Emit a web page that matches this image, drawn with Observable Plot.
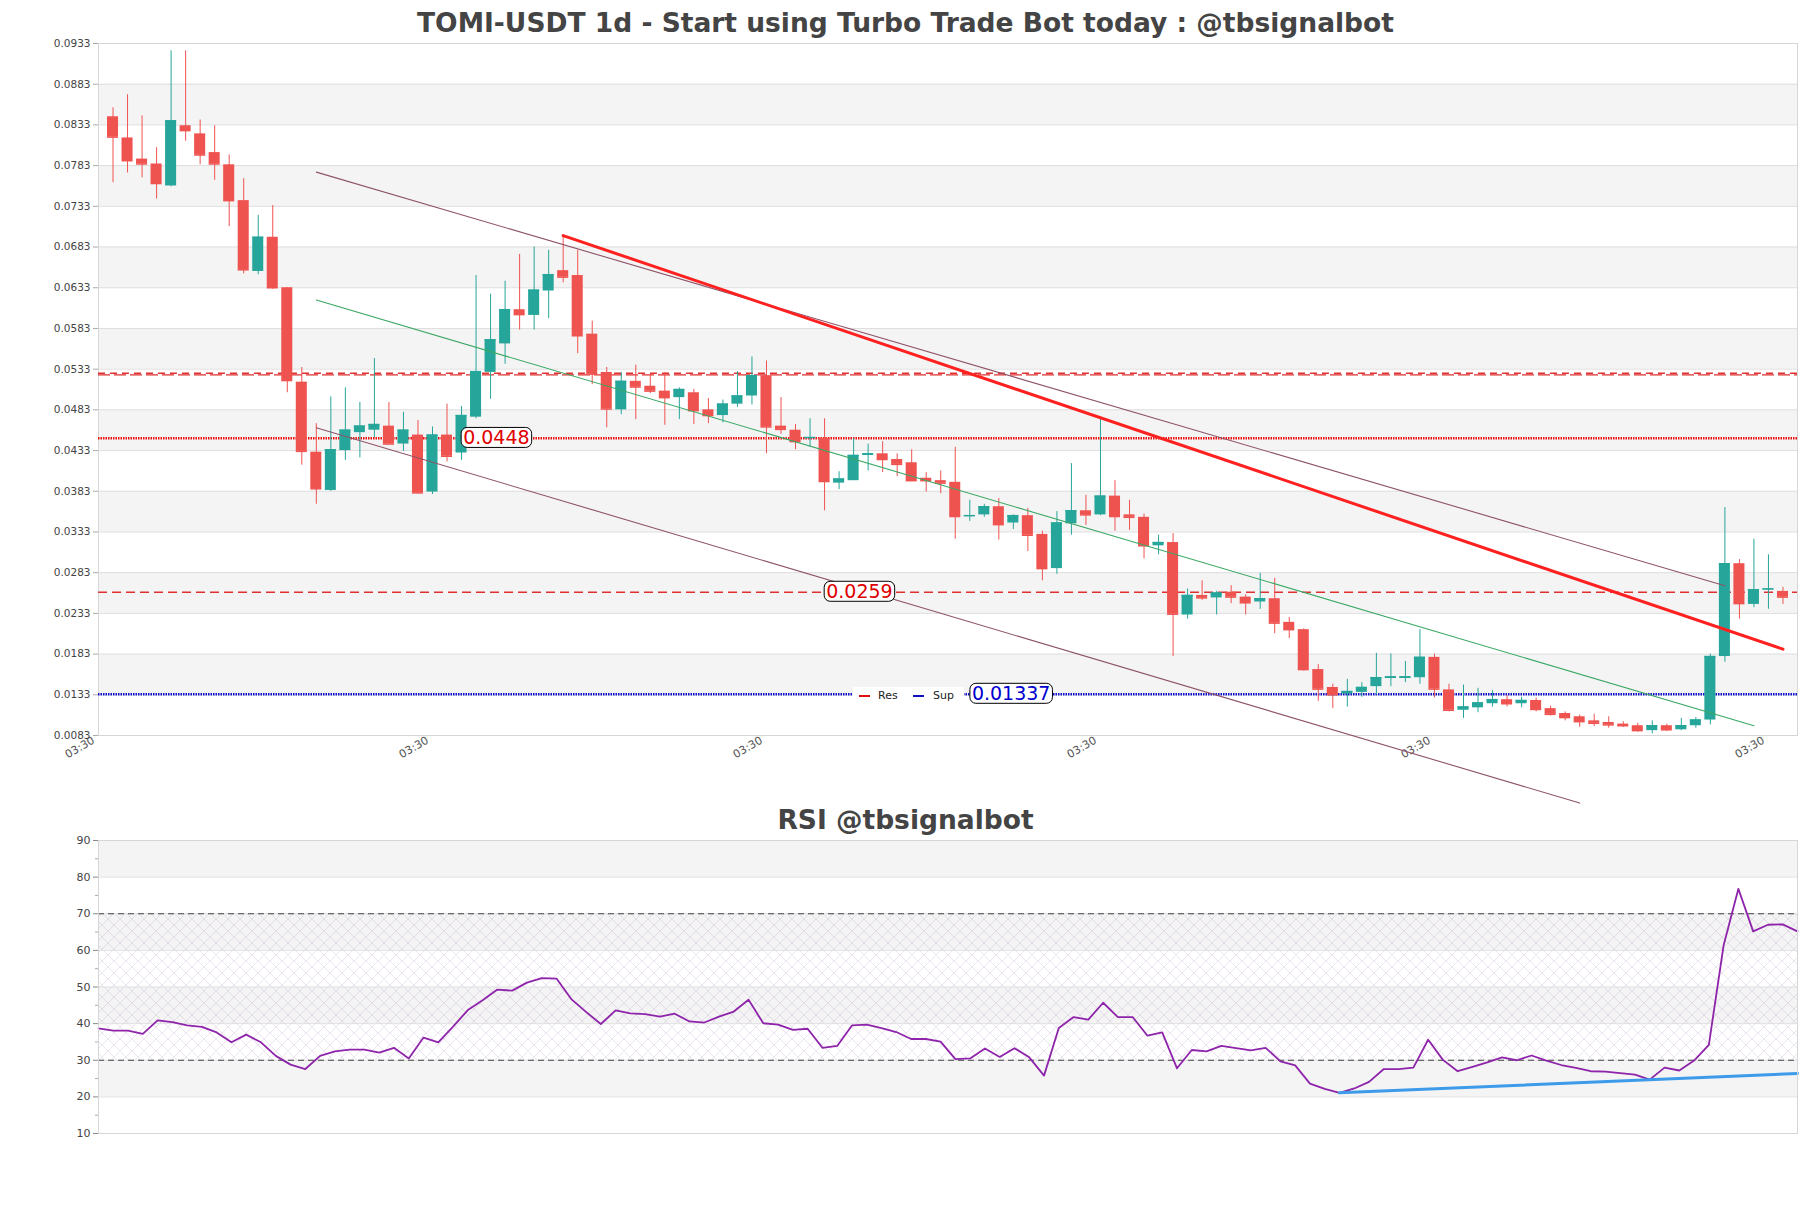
<!DOCTYPE html>
<html><head><meta charset="utf-8">
<script src="https://cdn.jsdelivr.net/npm/d3@7"></script>
<script src="https://cdn.jsdelivr.net/npm/@observablehq/plot@0.6"></script>
<style>
body{margin:0;background:#fff;font-family:"DejaVu Sans",sans-serif;}
#wrap{position:relative;width:1811px;height:1208px;overflow:hidden;}
.title{width:1811px;text-align:center;font-weight:bold;font-size:26.5px;color:#444;white-space:nowrap;}
#legend{position:absolute;left:853px;top:687px;width:111px;height:17px;background:#fff;font-size:11px;color:#222;}
#legend span{position:absolute;top:0;line-height:17px;}
#legend i{position:absolute;top:8px;width:11px;height:2px;}
</style></head><body><div id="wrap">
<div class="title" style="height:38px;line-height:46px;">TOMI-USDT 1d - Start using Turbo Trade Bot today : @tbsignalbot</div>
<div id="main"></div>
<div class="title" style="height:30px;line-height:30px;">RSI @tbsignalbot</div>
<div id="rsi"></div>
<div id="legend"><i style="left:6px;background:#d11;"></i><span style="left:25px;">Res</span><i style="left:60px;background:#1111c0;"></i><span style="left:80px;">Sup</span></div>
</div>
<script>
// ---------- data ----------
const open  = [0.0843,0.0817,0.0791,0.0785,0.0758,0.0832,0.0822,0.0799,0.0784,0.0740,
0.0653,0.0695,0.0633,0.0517,0.0431,0.0384,0.0433,0.0455,0.0458,0.0463,
0.0441,0.0452,0.0382,0.0452,0.0430,0.0474,0.0529,0.0564,0.0606,0.0599,
0.0629,0.0654,0.0648,0.0576,0.0529,0.0483,0.0518,0.0512,0.0506,0.0498,
0.0504,0.0483,0.0476,0.0490,0.0500,0.0525,0.0463,0.0458,0.0448,0.0448,
0.0393,0.0396,0.0427,0.0429,0.0422,0.0418,0.0399,0.0396,0.0394,0.0352,
0.0354,0.0364,0.0344,0.0353,0.0330,0.0288,0.0343,0.0359,0.0354,0.0377,
0.0354,0.0351,0.0316,0.0320,0.0231,0.0255,0.0252,0.0259,0.0253,0.0247,
0.0251,0.0222,0.0213,0.0164,0.0142,0.0134,0.0136,0.0143,0.0153,0.0153,
0.0154,0.0179,0.0139,0.0114,0.0117,0.0122,0.0127,0.0122,0.0126,0.0116,
0.0110,0.0106,0.0101,0.0099,0.0097,0.0095,0.0089,0.0095,0.0090,0.0095,
0.0102,0.0180,0.0294,0.0244,0.0262,0.0260];
const high  = [0.0854,0.0870,0.0844,0.0805,0.0924,0.0924,0.0839,0.0832,0.0796,0.0767,
0.0722,0.0734,0.0633,0.0535,0.0466,0.0499,0.0510,0.0492,0.0546,0.0492,
0.0480,0.0470,0.0462,0.0490,0.0487,0.0648,0.0625,0.0641,0.0674,0.0683,
0.0679,0.0697,0.0679,0.0592,0.0535,0.0529,0.0538,0.0526,0.0529,0.0510,
0.0508,0.0497,0.0495,0.0530,0.0548,0.0543,0.0498,0.0465,0.0472,0.0472,
0.0407,0.0448,0.0441,0.0444,0.0429,0.0434,0.0406,0.0408,0.0437,0.0372,
0.0367,0.0374,0.0354,0.0362,0.0334,0.0358,0.0417,0.0378,0.0472,0.0396,
0.0372,0.0355,0.0329,0.0331,0.0263,0.0273,0.0260,0.0267,0.0256,0.0282,
0.0276,0.0228,0.0214,0.0170,0.0146,0.0152,0.0148,0.0184,0.0183,0.0174,
0.0213,0.0183,0.0146,0.0145,0.0141,0.0138,0.0132,0.0130,0.0129,0.0119,
0.0112,0.0108,0.0109,0.0106,0.0100,0.0098,0.0101,0.0097,0.0104,0.0105,
0.0183,0.0363,0.0299,0.0324,0.0305,0.0265];
const low   = [0.0762,0.0774,0.0768,0.0742,0.0757,0.0813,0.0784,0.0765,0.0708,0.0650,
0.0649,0.0631,0.0504,0.0415,0.0367,0.0383,0.0421,0.0424,0.0449,0.0441,
0.0432,0.0380,0.0379,0.0419,0.0421,0.0472,0.0496,0.0539,0.0581,0.0581,
0.0595,0.0639,0.0552,0.0514,0.0461,0.0477,0.0471,0.0503,0.0464,0.0471,
0.0465,0.0466,0.0467,0.0486,0.0489,0.0429,0.0453,0.0434,0.0437,0.0359,
0.0385,0.0396,0.0408,0.0406,0.0401,0.0395,0.0382,0.0380,0.0324,0.0346,
0.0351,0.0323,0.0336,0.0309,0.0273,0.0281,0.0329,0.0341,0.0353,0.0334,
0.0335,0.0300,0.0305,0.0180,0.0226,0.0249,0.0231,0.0245,0.0231,0.0238,
0.0208,0.0202,0.0162,0.0125,0.0116,0.0118,0.0130,0.0133,0.0143,0.0148,
0.0146,0.0129,0.0112,0.0104,0.0111,0.0118,0.0118,0.0117,0.0112,0.0107,
0.0101,0.0093,0.0094,0.0092,0.0093,0.0087,0.0085,0.0088,0.0089,0.0092,
0.0096,0.0173,0.0226,0.0240,0.0238,0.0244];
const close = [0.0818,0.0789,0.0785,0.0761,0.0838,0.0826,0.0796,0.0785,0.0740,0.0655,
0.0695,0.0633,0.0519,0.0432,0.0386,0.0434,0.0458,0.0463,0.0465,0.0441,
0.0458,0.0381,0.0452,0.0426,0.0476,0.0530,0.0569,0.0606,0.0600,0.0630,
0.0649,0.0646,0.0574,0.0527,0.0484,0.0518,0.0511,0.0506,0.0498,0.0508,
0.0482,0.0476,0.0490,0.0500,0.0525,0.0462,0.0459,0.0444,0.0449,0.0395,
0.0398,0.0427,0.0429,0.0422,0.0416,0.0396,0.0396,0.0393,0.0352,0.0353,
0.0364,0.0342,0.0353,0.0329,0.0288,0.0344,0.0359,0.0354,0.0377,0.0352,
0.0351,0.0316,0.0320,0.0232,0.0255,0.0252,0.0258,0.0253,0.0246,0.0251,
0.0221,0.0213,0.0164,0.0140,0.0133,0.0137,0.0142,0.0154,0.0155,0.0155,
0.0179,0.0140,0.0114,0.0118,0.0123,0.0127,0.0122,0.0126,0.0115,0.0109,
0.0105,0.0100,0.0098,0.0096,0.0095,0.0089,0.0095,0.0090,0.0095,0.0102,
0.0180,0.0294,0.0245,0.0262,0.0263,0.0253];
const rsi = [38.7,38.1,38.1,37.2,40.9,40.4,39.5,39.1,37.6,34.9,
37.0,34.9,31.2,28.8,27.6,31.2,32.4,32.9,32.9,32.1,
33.4,30.5,36.2,34.9,39.2,43.7,46.4,49.3,49.0,51.2,
52.4,52.3,46.7,43.2,39.9,43.6,42.8,42.6,41.9,42.7,
40.6,40.3,41.9,43.3,46.5,40.1,39.7,38.3,38.6,33.4,
33.9,39.5,39.7,38.8,37.7,35.8,35.8,35.1,30.3,30.5,
33.2,30.9,33.3,30.8,25.8,38.8,41.8,41.1,45.7,41.8,
41.8,36.7,37.6,27.8,32.8,32.4,33.9,33.3,32.7,33.4,
29.7,28.6,23.6,22.2,21.1,22.3,24.1,27.6,27.6,28.0,
35.6,30.1,27.0,28.2,29.4,30.8,30.0,31.3,29.9,28.7,
27.9,27.0,26.9,26.5,26.1,24.7,28.0,27.2,29.9,34.2,
61.4,76.8,65.2,67.0,67.1,65.2];

const yTicks = [0.0083,0.0133,0.0183,0.0233,0.0283,0.0333,0.0383,0.0433,0.0483,0.0533,
0.0583,0.0633,0.0683,0.0733,0.0783,0.0833,0.0883,0.0933];
const xTicks = [-1,22,45,68,91,114];
const xTickLabels = ["03:30","03:30","03:30","03:30","03:30","03:30"];
const rsiTicks = [10,20,30,40,50,60,70,80,90];
const rsiMinor = [15,25,35,45,55,65,75,85];

const channelUpper = [{x:14,y:0.0775},{x:111,y:0.0267}];
const channelMid   = [{x:14,y:0.0618},{x:113,y:0.0095}];
const channelLower = [{x:14,y:0.0461},{x:101,y:0.0000}];
const resTrend     = [{x:31,y:0.0697},{x:115,y:0.0189}];
const rsiTrend     = [{x:84,y:21.1},{x:115,y:26.4}];

const resDouble = [0.0528,0.0526];
const resDotted = 0.0448, resDashed = 0.0259, supDotted = 0.01337;
const levelLabels = [
  {value:0.0448, label:"0.0448", color:"#e00000", at:26.4},
  {value:0.0259, label:"0.0259", color:"#e00000", at:51.4},
  {value:0.01337, label:"0.01337", color:"#0000d0", at:61.85}
];

// ---------- chart ----------
const GREEN="#26a69a", RED="#ef5350";
const candles = open.map((o,i)=>({i,o,h:high[i],l:low[i],c:close[i]}));
const ups = candles.filter(d=>d.c>=d.o), downs = candles.filter(d=>d.c<d.o);
const bands = yTicks.slice(0,-1).map((v,j)=>({y1:v,y2:yTicks[j+1],j})).filter(d=>d.j%2===1);
const hw = 0.38;

function candleMarks(data, color){
  return [
    Plot.ruleX(data,{x:"i",y1:"l",y2:"h",stroke:color,strokeWidth:1}),
    Plot.rect(data,{x1:d=>d.i-hw,x2:d=>d.i+hw,y1:"o",y2:"c",fill:color}),
    Plot.ruleY(data,{x1:d=>d.i-hw,x2:d=>d.i+hw,y:"c",stroke:color,strokeWidth:1.5})
  ];
}

const main = Plot.plot({
  width:1811, height:767, marginTop:5, marginBottom:70, marginLeft:98, marginRight:14,
  style:{fontFamily:"DejaVu Sans", background:"transparent", overflow:"visible"},
  x:{domain:[-1,116], axis:null},
  y:{domain:[0.0083,0.0933], axis:null},
  marks:[
    Plot.rect(bands,{y1:"y1",y2:"y2",fill:"#f4f4f4"}),
    Plot.ruleY(yTicks,{stroke:"#dedede",strokeWidth:1}),
    Plot.frame({stroke:"#d6d6d6"}),
    Plot.axisY({ticks:yTicks, tickFormat:d=>d.toFixed(4), tickSize:5, tickPadding:3, fontSize:10.5, fill:"#444", stroke:"#aaa"}),
    Plot.axisX({ticks:xTicks, tickFormat:d=>xTickLabels[xTicks.indexOf(d)], tickRotate:-30, tickSize:0, tickPadding:4, fontSize:11, fill:"#555", dx:-5}),
    Plot.ruleY([resDouble[0]],{stroke:"#e03030",strokeWidth:1.4,strokeDasharray:"7,5"}),
    Plot.ruleY([resDouble[1]],{stroke:"#e03030",strokeWidth:1.4,strokeDasharray:"12,4"}),
    Plot.ruleY([resDotted],{stroke:"#ee1111",strokeWidth:2.5,strokeDasharray:"1.5,1"}),
    Plot.ruleY([resDashed],{stroke:"#e03030",strokeWidth:1.4,strokeDasharray:"9,5"}),
    Plot.ruleY([supDotted],{stroke:"#1010c8",strokeWidth:2.5,strokeDasharray:"1.5,1"}),
    ...candleMarks(ups, GREEN),
    ...candleMarks(downs, RED),
    Plot.line(channelUpper,{x:"x",y:"y",stroke:"#8e5368",strokeWidth:1.1}),
    Plot.line(channelLower,{x:"x",y:"y",stroke:"#8e5368",strokeWidth:1.1}),
    Plot.line(channelMid,{x:"x",y:"y",stroke:"#3aa864",strokeWidth:1.1}),
    Plot.line(resTrend,{x:"x",y:"y",stroke:"#ff2020",strokeWidth:3}),
    Plot.text(levelLabels,{x:"at",y:"value",text:"label",fill:"color",fontSize:19,className:"lvl"})
  ]
});
document.getElementById("main").appendChild(main);
main.querySelectorAll("g.lvl text").forEach(t=>{
  const b = t.getBBox();
  const r = document.createElementNS("http://www.w3.org/2000/svg","rect");
  const cy = b.y + b.height/2;
  r.setAttribute("x", b.x-2); r.setAttribute("width", b.width+4);
  r.setAttribute("y", cy-10); r.setAttribute("height", 20);
  r.setAttribute("rx", 6); r.setAttribute("fill","#fff");
  r.setAttribute("stroke","#000"); r.setAttribute("stroke-width","1");
  if (t.getAttribute("transform")) r.setAttribute("transform", t.getAttribute("transform"));
  t.parentNode.insertBefore(r, t);
});

const rsiBands = rsiTicks.slice(0,-1).map((v,j)=>({y1:v,y2:rsiTicks[j+1],j})).filter(d=>d.j%2===1);
const rsiChart = Plot.plot({
  width:1811, height:318, marginTop:5, marginBottom:20, marginLeft:98, marginRight:14,
  style:{fontFamily:"DejaVu Sans", background:"transparent", overflow:"visible"},
  x:{domain:[0,rsi.length-1], axis:null},
  y:{domain:[10,90], axis:null},
  marks:[
    Plot.rect(rsiBands,{y1:"y1",y2:"y2",fill:"#f4f4f4"}),
    Plot.rect([{y1:30,y2:70}],{y1:"y1",y2:"y2",fill:"#fff",className:"hatch"}),
    Plot.ruleY(rsiTicks,{stroke:"#e0e0e0"}),
    Plot.ruleY([70,30],{stroke:"#444",strokeWidth:1.2,strokeDasharray:"6,4"}),
    Plot.line(rsi.map((v,i)=>({i,v})),{x:"i",y:"v",stroke:"#8e24aa",strokeWidth:1.8}),
    Plot.line(rsiTrend,{x:"x",y:"y",stroke:"#3d9be9",strokeWidth:3}),
    Plot.frame({stroke:"#d6d6d6"}),
    Plot.axisY({ticks:rsiTicks, tickSize:5, tickPadding:3, fontSize:11, fill:"#444", stroke:"#888"}),
    Plot.axisY({ticks:rsiMinor, tickFormat:()=>"", tickSize:3, stroke:"#aaa"})
  ]
});
document.getElementById("rsi").appendChild(rsiChart);
const ns="http://www.w3.org/2000/svg";
const defs=document.createElementNS(ns,"defs");
defs.innerHTML='<pattern id="hatch" width="12" height="12" patternUnits="userSpaceOnUse"><path d="M0,0 L12,12 M12,0 L0,12" stroke="rgba(150,100,180,0.25)" stroke-width="0.7" fill="none"/></pattern>';
rsiChart.insertBefore(defs, rsiChart.firstChild);
rsiChart.querySelectorAll("g.hatch rect").forEach(r=>r.setAttribute("fill","url(#hatch)"));
</script>
</body></html>
